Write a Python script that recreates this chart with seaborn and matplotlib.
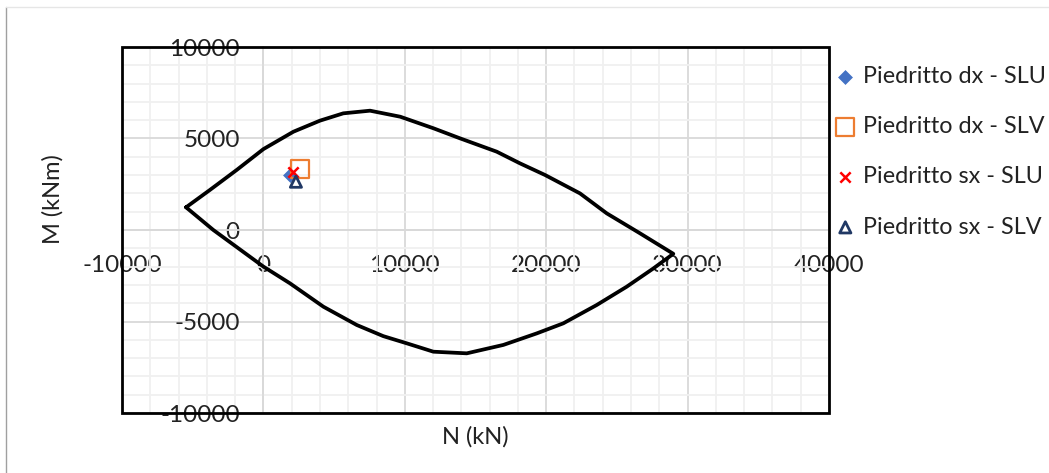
import matplotlib
matplotlib.use("Agg")
import matplotlib.pyplot as plt
import seaborn as sns
import pandas as pd
from matplotlib.ticker import MultipleLocator
from matplotlib.patches import Rectangle
from matplotlib.lines import Line2D

# ---- data ----
domain_N = [-5470, -3780, -1890, 0, 2120, 4000, 5650, 7540, 9680, 12020, 13900,
            16500, 18150, 19920, 22390, 24280, 26630, 28990,
            27580, 25690, 23570, 21210, 19330, 16970, 14380, 12020, 10130,
            8480, 6600, 4240, 1880, 0, -3540, -5470]
domain_M = [1240, 2190, 3280, 4420, 5370, 5975, 6375, 6520, 6190, 5560, 5010,
            4280, 3640, 3005, 2000, 910, -180, -1300,
            -2100, -3100, -4100, -5100, -5650, -6280, -6740, -6650, -6190,
            -5800, -5190, -4190, -2915, -2000, 0, 1240]

series_names = ["Piedritto dx - SLU", "Piedritto dx - SLV",
                "Piedritto sx - SLU", "Piedritto sx - SLV"]
series_N = [1880, 2590, 2070, 2300]
series_M = [3005, 3330, 3150, 2640]

x_ticks = [-10000, 0, 10000, 20000, 30000, 40000]
y_ticks = [-10000, -5000, 0, 5000, 10000]

# ---- style ----
sns.set_theme(style="white")
plt.rcParams['font.family'] = ['Lato', 'DejaVu Sans']
plt.rcParams['axes.unicode_minus'] = False

fig = plt.figure(figsize=(10.49, 4.73), dpi=100)
ax = fig.add_axes([122/1049, 1-413/473, (829-122)/1049, (413-47)/473])

ax.set_xlim(-10000, 40000)
ax.set_ylim(-10000, 10000)
ax.set_xticks(x_ticks)
ax.set_yticks(y_ticks)
ax.xaxis.set_minor_locator(MultipleLocator(2000))
ax.yaxis.set_minor_locator(MultipleLocator(1000))
ax.grid(which='major', color='#D9D9D9', lw=1.3, zorder=0)
ax.grid(which='minor', color='#F0F0F0', lw=1.3, zorder=0)
ax.set_axisbelow(True)

# zero axes
for s in ['top', 'right']:
    ax.spines[s].set_visible(False)
ax.spines['left'].set_position(('data', 0))
ax.spines['bottom'].set_position(('data', 0))
for s in ['left', 'bottom']:
    ax.spines[s].set_color('#D9D9D9')
    ax.spines[s].set_linewidth(1.3)
ax.tick_params(axis='both', which='both', length=0, labelsize=17.5, colors='#222222')
ax.tick_params(axis='x', pad=18)
ax.tick_params(axis='y', pad=17)

# plot area box
ax.add_patch(Rectangle((0, 0), 1, 1, transform=ax.transAxes, fill=False,
                       ec='black', lw=2, clip_on=False, zorder=5))

# domain curve
df_dom = pd.DataFrame({'N': domain_N, 'M': domain_M})
sns.lineplot(data=df_dom, x='N', y='M', sort=False, estimator=None,
             color='black', lw=2.7, ax=ax, zorder=3)

# points
styles = [
    dict(marker='D', color='#4472C4', edgecolor='#4472C4', s=50, linewidth=0.5),
    dict(marker='s', color='#ED7D31', edgecolor='#ED7D31', facecolor='none', s=170, linewidth=1.6),
    dict(marker='x', color='#FF0000', s=55, linewidth=1.8),
    dict(marker='^', color='#203864', edgecolor='#203864', facecolor='none', s=65, linewidth=2.0),
]
for name, n, m, st in zip(series_names, series_N, series_M, styles):
    sns.scatterplot(x=[n], y=[m], label=name, ax=ax, zorder=4, **st)

ax.set_xlabel("N (kN)", fontsize=17, color='#222222')
ax.set_ylabel("M (kNm)", fontsize=17, color='#222222')
ax.xaxis.set_label_coords(0.5, -0.066)
ax.xaxis.label.set_verticalalignment('center')
ax.yaxis.set_label_coords(-0.098, 0.585)
ax.yaxis.label.set_verticalalignment('center')

handles, labels = ax.get_legend_handles_labels()
ax.legend_.remove()
fig.legend(handles, labels, loc='upper left', bbox_to_anchor=(836/1049, 1-66/473),
           frameon=False, fontsize=16.8, handlelength=0.8, handletextpad=0.35,
           labelspacing=1.25, borderpad=0, borderaxespad=0, labelcolor='#222222')

# outer chart border fragments
fig.add_artist(Line2D([6/1049, 6/1049], [0, 1-7/473], transform=fig.transFigure,
                      color='#A0A0A0', lw=1))
fig.add_artist(Line2D([6/1049, 1], [1-7/473, 1-7/473], transform=fig.transFigure,
                      color='#E6E6E6', lw=1))

fig.savefig("out.png", dpi=100)
